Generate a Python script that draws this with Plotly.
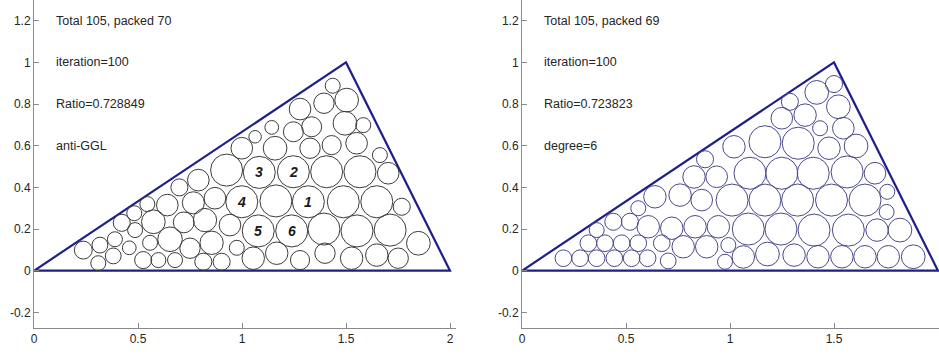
import plotly.graph_objects as go

# ---------------- data ----------------
TRI_X = [0, 2, 1.5, 0]
TRI_Y = [0, 0, 1, 0]

LEFT_TEXT = ["Total 105, packed 70", "iteration=100", "Ratio=0.728849", "anti-GGL"]
RIGHT_TEXT = ["Total 105, packed 69", "iteration=100", "Ratio=0.723823", "degree=6"]
TEXT_Y = [1.2, 1.0, 0.8, 0.6]
TEXT_X = 0.095

X_TICKS = [0, 0.5, 1, 1.5, 2]
X_TICKTEXT = ["0", "0.5", "1", "1.5", "2"]
Y_TICKS = [-0.2, 0, 0.2, 0.4, 0.6, 0.8, 1.0, 1.2]
Y_TICKTEXT = ["-0.2", "0", "0.2", "0.4", "0.6", "0.8", "1", "1.2"]

# left panel (anti-GGL) circles: centre x, centre y, radius
LEFT_X = [0.237, 0.309, 0.317, 0.381, 0.389, 0.422, 0.458, 0.486, 0.482, 0.525,
          0.545, 0.558, 0.574, 0.598, 0.641, 0.654, 0.678, 0.699, 0.720, 0.766,
          0.750, 0.790, 0.822, 0.854, 0.814, 0.870, 0.926, 0.942, 0.902, 0.975,
          1.054, 1.167, 1.279, 1.399, 1.527, 1.648, 1.751, 1.848, 1.078, 1.239,
          1.394, 1.553, 1.712, 0.999, 1.163, 1.319, 1.487, 1.648, 1.768, 1.083,
          1.247, 1.407, 1.567, 1.703, 1.663, 0.999, 1.063, 1.159, 1.143, 1.247,
          1.335, 1.327, 1.431, 1.551, 1.495, 1.583, 1.503, 1.394, 1.279, 1.436]
LEFT_Y = [0.099, 0.036, 0.123, 0.071, 0.151, 0.230, 0.110, 0.195, 0.276, 0.051,
          0.320, 0.134, 0.235, 0.051, 0.315, 0.151, 0.051, 0.400, 0.232, 0.326,
          0.108, 0.435, 0.243, 0.134, 0.043, 0.348, 0.483, 0.219, 0.043, 0.110,
          0.060, 0.084, 0.051, 0.084, 0.060, 0.075, 0.060, 0.132, 0.191, 0.191,
          0.200, 0.191, 0.195, 0.331, 0.335, 0.331, 0.331, 0.331, 0.307, 0.472,
          0.475, 0.475, 0.475, 0.468, 0.555, 0.588, 0.643, 0.588, 0.688, 0.667,
          0.691, 0.588, 0.603, 0.612, 0.708, 0.699, 0.819, 0.804, 0.776, 0.888]
LEFT_R = [0.043, 0.036, 0.038, 0.038, 0.036, 0.041, 0.033, 0.036, 0.036, 0.041,
          0.036, 0.036, 0.057, 0.036, 0.052, 0.059, 0.036, 0.041, 0.050, 0.053,
          0.049, 0.052, 0.056, 0.056, 0.041, 0.052, 0.077, 0.052, 0.041, 0.036,
          0.054, 0.054, 0.046, 0.049, 0.054, 0.054, 0.049, 0.057, 0.077, 0.077,
          0.077, 0.077, 0.077, 0.077, 0.077, 0.077, 0.077, 0.077, 0.041, 0.077,
          0.077, 0.077, 0.077, 0.052, 0.036, 0.052, 0.030, 0.057, 0.033, 0.048,
          0.048, 0.049, 0.046, 0.052, 0.057, 0.036, 0.057, 0.049, 0.052, 0.036]

# numbered neighbours (labels 1..6) -> index into the left circle lists
NUM_LABELS = ["1", "2", "3", "4", "5", "6"]
NUM_INDEX = [45, 50, 49, 43, 38, 39]

# right panel (degree=6) circles
RIGHT_X = [0.199, 0.279, 0.359, 0.444, 0.527, 0.604, 0.703,
           0.319, 0.399, 0.479, 0.559, 0.672, 0.775, 0.888, 0.992,
           0.976, 1.064, 1.180, 1.308, 1.423, 1.538, 1.649, 1.761, 1.881,
           0.359, 0.439, 0.519, 0.607, 0.720, 0.832, 0.944,
           1.088, 1.245, 1.404, 1.569, 1.707, 1.817,
           0.559, 0.639, 0.760, 0.864, 1.010, 1.168, 1.325, 1.488, 1.649, 1.756, 1.753,
           0.827, 0.936, 1.096, 1.249, 1.400, 1.563, 1.697,
           0.880, 1.019, 1.168, 1.328, 1.476, 1.606,
           1.249, 1.361, 1.433, 1.545, 1.288, 1.417, 1.521, 1.500]
RIGHT_Y = [0.060, 0.060, 0.060, 0.060, 0.060, 0.060, 0.047,
           0.132, 0.132, 0.132, 0.132, 0.132, 0.115, 0.115, 0.123,
           0.043, 0.066, 0.080, 0.075, 0.067, 0.067, 0.067, 0.067, 0.067,
           0.195, 0.235, 0.235, 0.211, 0.204, 0.211, 0.211,
           0.200, 0.200, 0.195, 0.195, 0.195, 0.195,
           0.300, 0.355, 0.363, 0.339, 0.339, 0.339, 0.339, 0.339, 0.339, 0.379, 0.282,
           0.450, 0.451, 0.468, 0.468, 0.468, 0.474, 0.468,
           0.535, 0.595, 0.619, 0.612, 0.588, 0.599,
           0.732, 0.747, 0.684, 0.684, 0.811, 0.856, 0.787, 0.896]
RIGHT_R = [0.040, 0.040, 0.040, 0.040, 0.040, 0.040, 0.038,
           0.040, 0.040, 0.040, 0.040, 0.040, 0.054, 0.054, 0.036,
           0.036, 0.054, 0.057, 0.054, 0.054, 0.054, 0.054, 0.054, 0.057,
           0.036, 0.041, 0.041, 0.054, 0.054, 0.054, 0.054,
           0.077, 0.077, 0.077, 0.077, 0.054, 0.057,
           0.036, 0.054, 0.054, 0.052, 0.077, 0.077, 0.077, 0.077, 0.077, 0.036, 0.036,
           0.054, 0.052, 0.077, 0.077, 0.077, 0.077, 0.052,
           0.041, 0.054, 0.077, 0.077, 0.054, 0.057,
           0.052, 0.054, 0.036, 0.052, 0.041, 0.057, 0.057, 0.041]

# ---------------- styling ----------------
W, H = 939, 354
TRI_COLOR = "#1f1f8a"
LEFT_CIRCLE = "#3c3c3c"
RIGHT_CIRCLE = "#4a4a8c"
AXIS_COLOR = "#8a8a8a"
TEXT_COLOR = "#262626"
FONT = "Liberation Sans, Arial, sans-serif"

fig = go.Figure()

for xa, ya in (("x", "y"), ("x2", "y2")):
    fig.add_trace(go.Scatter(x=TRI_X, y=TRI_Y, mode="lines", xaxis=xa, yaxis=ya,
                             line=dict(color=TRI_COLOR, width=2.2),
                             hoverinfo="skip", showlegend=False))

shapes = []
for cx, cy, r in zip(LEFT_X, LEFT_Y, LEFT_R):
    shapes.append(dict(type="circle", xref="x", yref="y",
                       x0=cx - r, x1=cx + r, y0=cy - r, y1=cy + r,
                       line=dict(color=LEFT_CIRCLE, width=1)))
for cx, cy, r in zip(RIGHT_X, RIGHT_Y, RIGHT_R):
    shapes.append(dict(type="circle", xref="x2", yref="y2",
                       x0=cx - r, x1=cx + r, y0=cy - r, y1=cy + r,
                       line=dict(color=RIGHT_CIRCLE, width=1)))

annotations = []
for txt, ty in zip(LEFT_TEXT, TEXT_Y):
    annotations.append(dict(x=TEXT_X, y=ty, xref="x", yref="y", text=txt,
                            showarrow=False, xanchor="left", yanchor="middle",
                            font=dict(family=FONT, size=12.5, color=TEXT_COLOR)))
for txt, ty in zip(RIGHT_TEXT, TEXT_Y):
    annotations.append(dict(x=TEXT_X, y=ty, xref="x2", yref="y2", text=txt,
                            showarrow=False, xanchor="left", yanchor="middle",
                            font=dict(family=FONT, size=12.5, color=TEXT_COLOR)))
for lab, idx in zip(NUM_LABELS, NUM_INDEX):
    annotations.append(dict(x=LEFT_X[idx], y=LEFT_Y[idx], xref="x", yref="y",
                            text=lab, showarrow=False,
                            font=dict(family=FONT, size=14, color="#1a1a1a",
                                      style="italic", weight="bold")))

axis_common = dict(showline=True, linecolor=AXIS_COLOR, linewidth=1,
                   ticks="inside", ticklen=5, tickcolor=AXIS_COLOR,
                   showgrid=False, zeroline=False, automargin=False,
                   fixedrange=True,
                   tickfont=dict(family=FONT, size=12, color=TEXT_COLOR))

YR = [-0.275, 1.2996]
fig.update_layout(
    width=W, height=H,
    paper_bgcolor="white", plot_bgcolor="white",
    margin=dict(l=0, r=0, t=0, b=26),
    showlegend=False,
    shapes=shapes,
    annotations=annotations,
    xaxis=dict(domain=[34 / W, 456 / W], range=[0, 422 / 208], anchor="y",
               tickvals=X_TICKS, ticktext=X_TICKTEXT, **axis_common),
    yaxis=dict(domain=[0, 1], range=YR, anchor="x",
               tickvals=Y_TICKS, ticktext=Y_TICKTEXT, **axis_common),
    xaxis2=dict(domain=[522 / W, 1.0], range=[0, 417 / 208], anchor="y2",
                tickvals=X_TICKS, ticktext=X_TICKTEXT, **axis_common),
    yaxis2=dict(domain=[0, 1], range=YR, anchor="x2",
                tickvals=Y_TICKS, ticktext=Y_TICKTEXT, **axis_common),
)

fig.write_html("out.html",
               config={"displayModeBar": False, "staticPlot": True},
               post_script="document.body.style.margin='0';"
                           "document.body.style.overflow='hidden';")
